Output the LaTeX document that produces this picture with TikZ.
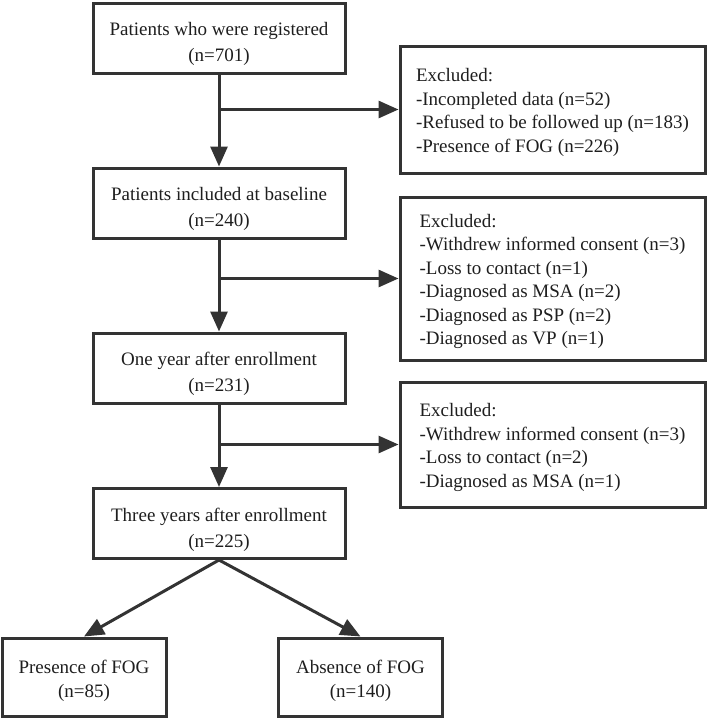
\documentclass[tikz,border=0pt]{standalone}
\usepackage{fontspec}
\setmainfont{Liberation Serif}
\usetikzlibrary{arrows.meta}
\definecolor{linecol}{HTML}{333333}
\definecolor{txtcol}{HTML}{1E1E1E}
\tikzset{
  box/.style={draw=linecol, line width=3pt, inner sep=0pt},
  mainbox/.style={box, minimum width=252pt, minimum height=70pt},
  exbox/.style={box, minimum width=305pt},
  endbox/.style={box, minimum width=164pt, minimum height=78pt},
  maintxt/.style={text=txtcol, align=center, inner sep=0pt, font=\fontsize{19}{26}\selectfont},
  extxt/.style={text=txtcol, align=left, inner sep=0pt, font=\fontsize{19}{23.4}\selectfont},
  endtxt/.style={text=txtcol, align=center, inner sep=0pt, font=\fontsize{19}{24.5}\selectfont},
  arr/.style={draw=linecol, line width=3pt, -{Triangle[length=20pt,width=17pt]}}
}
\begin{document}
\begin{tikzpicture}[x=1pt,y=-1pt]
\useasboundingbox (0,0) rectangle (709,718);
\node[mainbox] (b1) at (219,38) {};
\node[mainbox] (b2) at (219,203) {};
\node[mainbox] (b3) at (219,368) {};
\node[mainbox] (b4) at (219,523.5) {};
\node[maintxt] (b1t) at ([yshift=-6pt]b1.center) {Patients who were registered\\(n=701)};
\node[maintxt] (b2t) at ([yshift=-6pt]b2.center) {Patients included at baseline\\(n=240)};
\node[maintxt] (b3t) at ([yshift=-6pt]b3.center) {One year after enrollment\\(n=231)};
\node[maintxt] (b4t) at ([yshift=-6pt]b4.center) {Three years after enrollment\\(n=225)};
\node[exbox, minimum height=127pt] (e1) at (552.5,109.5) {};
\node[exbox, minimum height=163pt] (e2) at (552.5,278.5) {};
\node[exbox, minimum height=125pt] (e3) at (552.5,444.5) {};
\node[extxt] (e1t) at ([yshift=-3pt]e1.center) {Excluded:\\-Incompleted data (n=52)\\-Refused to be followed up (n=183)\\-Presence of FOG (n=226)};
\node[extxt] (e2t) at ([yshift=-3pt]e2.center) {Excluded:\\-Withdrew informed consent (n=3)\\-Loss to contact (n=1)\\-Diagnosed as MSA (n=2)\\-Diagnosed as PSP (n=2)\\-Diagnosed as VP (n=1)};
\node[extxt] (e3t) at ([yshift=-3pt]e3.center) {Excluded:\\-Withdrew informed consent (n=3)\\-Loss to contact (n=2)\\-Diagnosed as MSA (n=1)};
\node[endbox] (p) at (84,677) {};
\node[endbox] (a) at (360.5,677) {};
\node[endtxt] (pt) at ([yshift=-4pt]p.center) {Presence of FOG\\(n=85)};
\node[endtxt] (at) at ([yshift=-4pt]a.center) {Absence of FOG\\(n=140)};
\draw[arr] (b1.south) -- (b2.north);
\draw[arr] (b1.south |- e1.west) -- (e1.west);
\draw[arr] (b2.south) -- (b3.north);
\draw[arr] (b2.south |- e2.west) -- (e2.west);
\draw[arr] (b3.south) -- (b4.north);
\draw[arr] (b3.south |- e3.west) -- (e3.west);
\draw[arr] (b4.south) -- (p.north);
\draw[arr] (b4.south) -- (a.north);
\end{tikzpicture}
\end{document}
